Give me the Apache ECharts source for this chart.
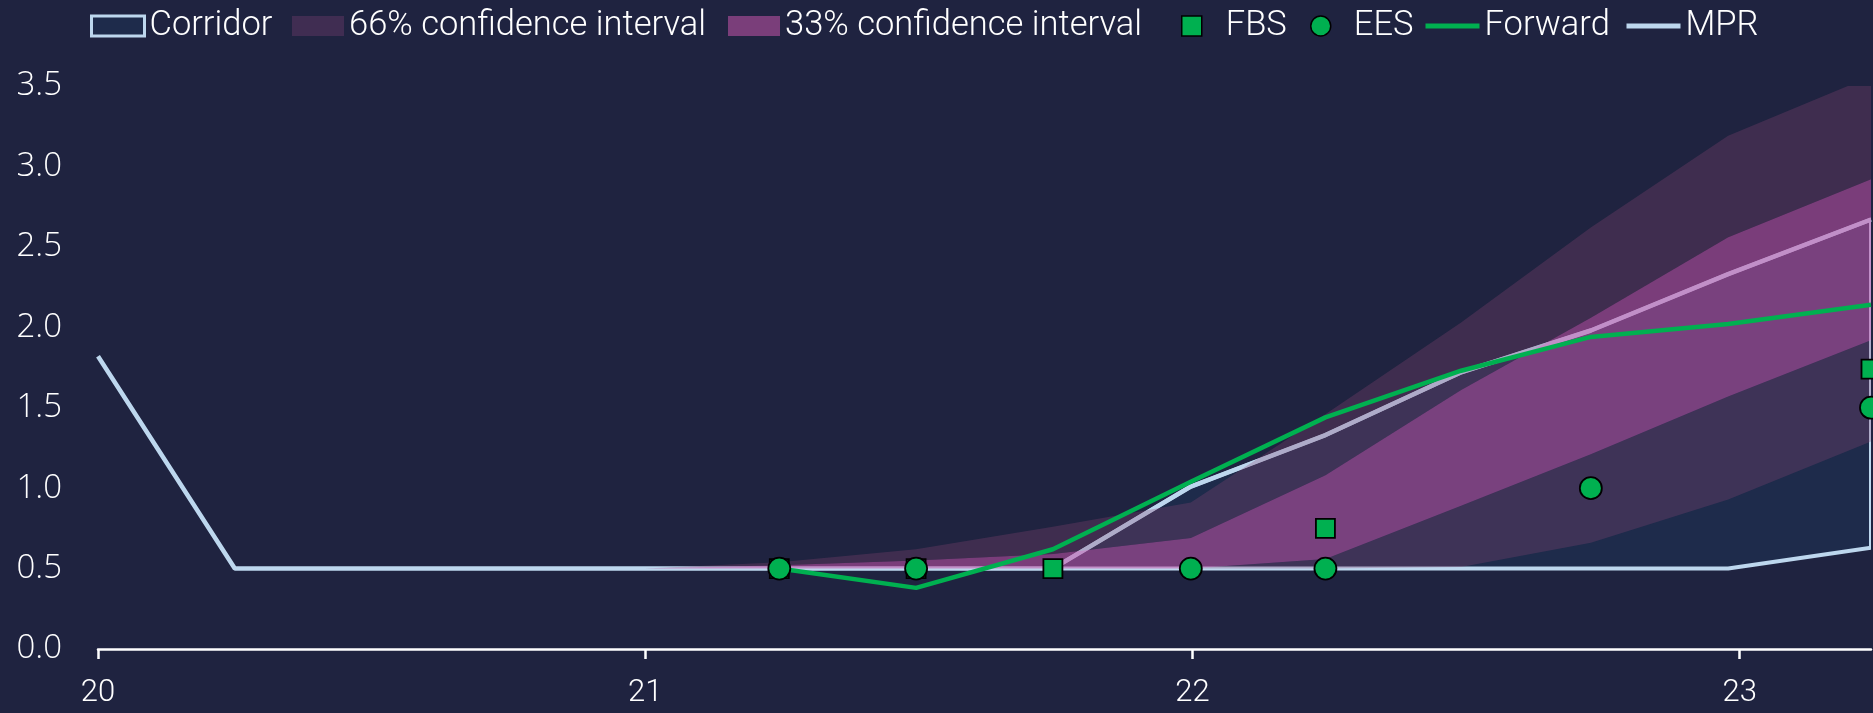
<!DOCTYPE html>
<html>
<head>
<meta charset="utf-8">
<script src="https://cdn.jsdelivr.net/npm/echarts@6/dist/echarts.min.js"></script>
<style>
html, body { margin: 0; padding: 0; background: #1f2340; }
#chart { width: 1873px; height: 713px; }
</style>
</head>
<body>
<div id="chart"></div>
<script>
// quarter positions, in years (20 = 2020)
var quarters = [20, 20.25, 20.5, 20.75, 21, 21.245, 21.495, 21.745, 21.997, 22.243, 22.491, 22.728, 22.979, 23.24];
var yearTicks = [20, 21, 22, 23];

var mpr = [1.82, 0.5, 0.5, 0.5, 0.5, 0.5, 0.5, 0.5, 1.01, 1.33, 1.72, 1.98, 2.33, 2.67];
var corridorLow = [null, null, null, null, null, null, null, 0.5, 0.5, 0.5, 0.5, 0.5, 0.5, 0.63];
var corridorHigh = [null, null, null, null, null, null, null, 0.5, 1.01, 1.33, 1.72, 1.98, 2.33, 2.67];
var low66 = [null, null, null, null, 0.5, 0.5, 0.5, 0.5, 0.5, 0.5, 0.51, 0.66, 0.93, 1.29];
var low33 = [null, null, null, null, 0.5, 0.5, 0.5, 0.5, 0.5, 0.56, 0.89, 1.21, 1.57, 1.92];
var high33 = [null, null, null, null, 0.5, 0.52, 0.55, 0.59, 0.69, 1.08, 1.61, 2.06, 2.56, 2.92];
var high66 = [null, null, null, null, 0.5, 0.54, 0.62, 0.76, 0.91, 1.46, 2.03, 2.62, 3.19, 3.56];
var forward = [null, null, null, null, null, 0.5, 0.38, 0.62, 1.04, 1.44, 1.73, 1.94, 2.02, 2.14];
var fbs = [null, null, null, null, null, 0.5, 0.5, 0.5, null, 0.75, null, null, null, 1.74];
var ees = [null, null, null, null, null, 0.5, 0.5, null, 0.5, 0.5, null, 1.0, null, 1.5];

var GREEN = '#00b050';
var LIGHT = '#bdd7ee';

function pairs(arr) {
    var out = [];
    quarters.forEach(function (x, i) {
        if (arr[i] != null) out.push([x, arr[i]]);
    });
    return out;
}

// polygon between two series (lo -> hi), drawn once through the axes
function band(name, lo, hi, style, z) {
    var idx = [];
    quarters.forEach(function (x, i) { if (lo[i] != null && hi[i] != null) idx.push(i); });
    return {
        name: name,
        type: 'custom',
        coordinateSystem: 'cartesian2d',
        z: z,
        silent: true,
        data: idx.map(function (i) { return [quarters[i], lo[i], hi[i]]; }),
        encode: { x: 0, y: [1, 2] },
        renderItem: function (params, api) {
            if (params.dataIndex !== 0) return;
            var pts = [];
            idx.forEach(function (i) { pts.push(api.coord([quarters[i], hi[i]])); });
            idx.slice().reverse().forEach(function (i) { pts.push(api.coord([quarters[i], lo[i]])); });
            var cs = params.coordSys;
            return {
                type: 'polygon',
                shape: { points: pts },
                style: style,
                clipPath: { type: 'rect', shape: { x: cs.x, y: cs.y, width: cs.width, height: cs.height } }
            };
        }
    };
}

// one legend entry per component so each sits where the original puts it
function legendItem(left, width, textGap, item) {
    return {
        left: left,
        top: 8,
        padding: 0,
        itemWidth: width,
        itemHeight: 20,
        selectedMode: false,
        textStyle: {
            color: '#ffffff', fontFamily: 'Roboto', fontWeight: 300, fontSize: 34.5, lineHeight: 36,
            padding: [0, 0, 0, textGap]
        },
        data: [item]
    };
}

var chart = echarts.init(document.getElementById('chart'));

var option = {
    backgroundColor: '#1f2340',
    animation: false,
    legend: [
        legendItem(90, 53, 0, { name: 'Corridor', icon: 'rect', itemStyle: { color: '#1e2b4b', borderColor: LIGHT, borderWidth: 3 } }),
        legendItem(292, 52, 0, { name: '66% confidence interval', icon: 'rect', itemStyle: { color: 'rgb(64,45,82)', borderWidth: 0 } }),
        legendItem(728, 52, 0, { name: '33% confidence interval', icon: 'rect', itemStyle: { color: 'rgb(122,62,122)', borderWidth: 0 } }),
        legendItem(1181, 20, 19, { name: 'FBS', icon: 'rect', itemStyle: { color: GREEN, borderColor: '#000', borderWidth: 1.5 } }),
        legendItem(1310, 22, 17, { name: 'EES', icon: 'circle', itemStyle: { color: GREEN, borderColor: '#000', borderWidth: 1.5 } }),
        legendItem(1423, 54, 0, { name: 'Forward', icon: 'line', itemStyle: { color: GREEN, borderColor: GREEN, borderWidth: 5 } }),
        legendItem(1624, 54, 0, { name: 'MPR', icon: 'line', itemStyle: { color: LIGHT, borderColor: LIGHT, borderWidth: 5 } })
    ],
    grid: { left: 98, right: 2, top: 86, bottom: 64 },
    xAxis: {
        type: 'value',
        min: 20,
        max: 23.24,
        splitLine: { show: false },
        axisLine: { lineStyle: { color: '#ffffff', width: 2.5 } },
        axisTick: { customValues: yearTicks, length: 10, lineStyle: { color: '#ffffff', width: 2.5 } },
        axisLabel: {
            customValues: yearTicks,
            color: '#ffffff',
            fontFamily: 'Roboto',
            fontWeight: 300,
            fontSize: 31,
            margin: 29,
            formatter: function (v) { return String(v); }
        }
    },
    yAxis: {
        type: 'value',
        min: 0,
        max: 3.5,
        interval: 0.5,
        splitLine: { show: false },
        axisLine: { show: false },
        axisTick: { show: false },
        axisLabel: {
            color: '#ffffff',
            fontFamily: 'Open Sans',
            fontWeight: 300,
            fontSize: 33,
            margin: 36,
            formatter: function (v) { return v.toFixed(1); }
        }
    },
    series: [
        band('Corridor', corridorLow, corridorHigh, { fill: '#1e2b4b', stroke: LIGHT, lineWidth: 4, lineJoin: 'round' }, 1),
        {
            name: 'MPR',
            type: 'line',
            z: 2,
            data: pairs(mpr),
            symbol: 'none',
            lineStyle: { color: LIGHT, width: 4.5 }
        },
        band('66% confidence interval', low66, low33, { fill: 'rgba(138,68,117,0.3)' }, 3),
        band('33% confidence interval', low33, high33, { fill: 'rgba(196,84,169,0.55)' }, 3),
        band('66% confidence interval', high33, high66, { fill: 'rgba(138,68,117,0.3)' }, 3),
        {
            name: 'Forward',
            type: 'line',
            z: 4,
            data: pairs(forward),
            symbol: 'none',
            lineStyle: { color: GREEN, width: 4.5 }
        },
        {
            name: 'FBS',
            type: 'scatter',
            z: 5,
            data: pairs(fbs),
            symbol: 'rect',
            symbolSize: 19,
            itemStyle: { color: GREEN, borderColor: '#000', borderWidth: 1.8, opacity: 1 }
        },
        {
            name: 'EES',
            type: 'scatter',
            z: 6,
            data: pairs(ees),
            symbol: 'circle',
            symbolSize: 22,
            itemStyle: { color: GREEN, borderColor: '#000', borderWidth: 1.8, opacity: 1 }
        }
    ]
};

chart.setOption(option);
</script>
</body>
</html>
